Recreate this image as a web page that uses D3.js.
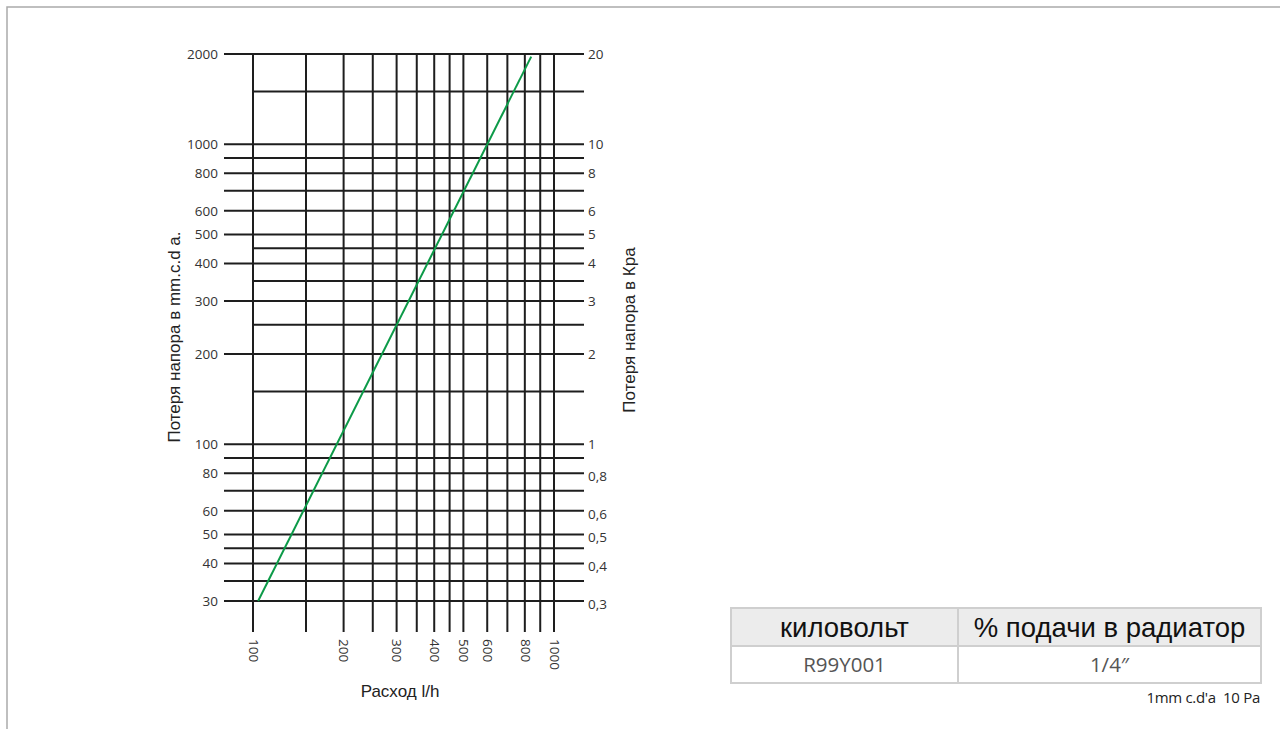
<!DOCTYPE html>
<html>
<head>
<meta charset="utf-8">
<script src="https://cdn.jsdelivr.net/npm/d3@7"></script>
<style>
  body { margin: 0; background: #fff; }
  svg { display: block; }
</style>
</head>
<body>
<svg id="canvas" width="1280" height="729"></svg>
<script>
// grid values
let flowLines = [100, 150, 200, 250, 300, 350, 400, 450, 500, 600, 700, 800, 900, 1000]
let flowLabels = [100, 200, 300, 400, 500, 600, 800, 1000]
let headLines = [2000, 1500, 1000, 900, 800, 700, 600, 500, 450, 400, 350, 300, 250, 200, 150, 100, 90, 80, 70, 60, 50, 45, 40, 35, 30]
let shortLines = [1500, 450, 350, 250, 150]
let headLabels = [2000, 1000, 800, 600, 500, 400, 300, 200, 100, 80, 60, 50, 40, 30]
let kpaLabels = ['20', '10', '8', '6', '5', '4', '3', '2', '1', '0,8', '0,6', '0,5', '0,4', '0,3']

// curve (flow l/h, head mm)
let curveFlow = [104, 840]
let curveHead = [30, 1960]

// table
let tableHeader = ['киловольт', '% подачи в радиатор']
let tableRow = ['R99Y001', '1/4″']

let canvas = d3.select('#canvas')

let left = 224, gridLeft = 253, right = 584, bottom = 632

let x = d3.scaleLog().domain([100, 1000]).range([253, 554])
let y = d3.scaleLog().domain([30, 2000]).range([601, 54])

// frame
canvas.append('path')
    .attr('d', 'M7,729 L7,7 L1280,7')
    .attr('fill', 'none')
    .attr('stroke', '#aaa')
    .attr('stroke-width', 1.5)

let grid = canvas.append('g')
    .attr('stroke', '#1e1e1e')
    .attr('stroke-width', 2)

grid.selectAll('.h')
    .data(headLines)
    .enter()
    .append('line')
    .attr('x1', (d) => shortLines.includes(d) ? gridLeft : left)
    .attr('x2', right)
    .attr('y1', (d) => y(d))
    .attr('y2', (d) => y(d))

grid.selectAll('.v')
    .data(flowLines)
    .enter()
    .append('line')
    .attr('x1', (d) => x(d))
    .attr('x2', (d) => x(d))
    .attr('y1', y(2000))
    .attr('y2', bottom)

// curve
let line = d3.line()
    .x((d) => x(d[0]))
    .y((d) => y(d[1]))

canvas.append('path')
    .datum(d3.zip(curveFlow, curveHead))
    .attr('d', line)
    .attr('fill', 'none')
    .attr('stroke', '#0c9a48')
    .attr('stroke-width', 2)

// axes (labels only)
let leftAxis = canvas.append('g')
    .attr('transform', 'translate(' + left + ',0)')
    .call(d3.axisLeft(y).tickValues(headLabels).tickFormat(d3.format('d')).tickSize(0).tickPadding(6))
leftAxis.select('.domain').remove()

let rightAxis = canvas.append('g')
    .attr('transform', 'translate(' + right + ',0)')
    .call(d3.axisRight(y).tickValues(headLabels).tickFormat((d, i) => kpaLabels[i]).tickSize(0).tickPadding(4))
rightAxis.select('.domain').remove()
rightAxis.selectAll('text')
    .attr('dy', (d, i) => kpaLabels[i].includes(',') ? '0.55em' : '0.32em')

let bottomAxis = canvas.append('g')
    .attr('transform', 'translate(0,' + bottom + ')')
    .call(d3.axisBottom(x).tickValues(flowLabels).tickFormat(d3.format('d')).tickSize(0))
bottomAxis.select('.domain').remove()
bottomAxis.selectAll('text')
    .attr('transform', 'rotate(90)')
    .attr('x', 7)
    .attr('y', 0)
    .attr('dy', '0.35em')
    .style('text-anchor', 'start')

canvas.selectAll('.tick text')
    .style('font-family', '"Open Sans", sans-serif')
    .style('font-size', '13.5px')
    .attr('fill', '#333')

// titles
let titleFont = '"Liberation Sans", Arial, sans-serif'

canvas.append('text')
    .attr('transform', 'translate(180,337) rotate(-90)')
    .style('text-anchor', 'middle')
    .style('font-family', titleFont)
    .style('font-size', '17px')
    .attr('fill', '#222')
    .text('Потеря напора в mm.c.d a.')

canvas.append('text')
    .attr('transform', 'translate(635,330) rotate(-90)')
    .style('text-anchor', 'middle')
    .style('font-family', titleFont)
    .style('font-size', '17px')
    .attr('fill', '#222')
    .text('Потеря напора в Кра')

canvas.append('text')
    .attr('x', 400)
    .attr('y', 697)
    .style('text-anchor', 'middle')
    .style('font-family', titleFont)
    .style('font-size', '17px')
    .attr('fill', '#222')
    .text('Расход l/h')

// table
let tx = [731, 958, 1261]
let ty = [608, 646, 683]
let table = canvas.append('g')

table.append('rect')
    .attr('x', tx[0]).attr('y', ty[0])
    .attr('width', tx[2] - tx[0]).attr('height', ty[1] - ty[0])
    .attr('fill', '#ececec')

table.append('rect')
    .attr('x', tx[0]).attr('y', ty[0])
    .attr('width', tx[2] - tx[0]).attr('height', ty[2] - ty[0])
    .attr('fill', 'none')
    .attr('stroke', '#cfcfcf')
    .attr('stroke-width', 2)

table.append('line')
    .attr('x1', tx[0]).attr('x2', tx[2])
    .attr('y1', ty[1]).attr('y2', ty[1])
    .attr('stroke', '#cfcfcf').attr('stroke-width', 2)

table.append('line')
    .attr('x1', tx[1]).attr('x2', tx[1])
    .attr('y1', ty[0]).attr('y2', ty[2])
    .attr('stroke', '#cfcfcf').attr('stroke-width', 2)

table.selectAll('.head')
    .data(tableHeader)
    .enter()
    .append('text')
    .attr('x', (d, i) => (tx[i] + tx[i + 1]) / 2)
    .attr('y', (ty[0] + ty[1]) / 2)
    .attr('dy', '0.36em')
    .style('text-anchor', 'middle')
    .style('font-family', titleFont)
    .style('font-size', '27.5px')
    .attr('fill', '#111')
    .text((d) => d)

table.selectAll('.cell')
    .data(tableRow)
    .enter()
    .append('text')
    .attr('x', (d, i) => (tx[i] + tx[i + 1]) / 2)
    .attr('y', (ty[1] + ty[2]) / 2)
    .attr('dy', '0.36em')
    .style('text-anchor', 'middle')
    .style('font-family', '"Open Sans", sans-serif')
    .style('font-size', '20.5px')
    .attr('fill', '#555')
    .text((d) => d)

canvas.append('text')
    .attr('x', 1260)
    .attr('y', 703)
    .attr('xml:space', 'preserve')
    .style('text-anchor', 'end')
    .style('font-family', '"Open Sans", sans-serif')
    .style('font-size', '15px')
    .style('letter-spacing', '-0.3px')
    .attr('fill', '#222')
    .text("1mm c.d'a  10 Pa")
</script>
</body>
</html>
